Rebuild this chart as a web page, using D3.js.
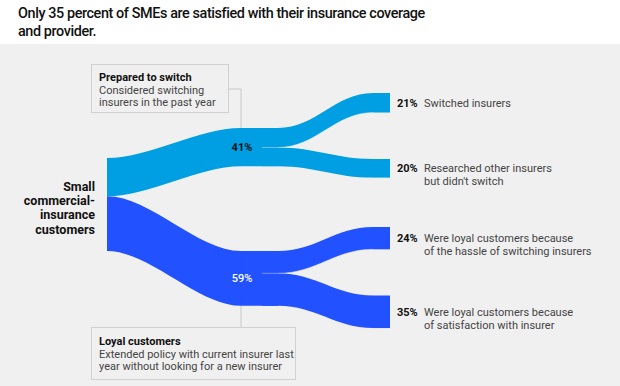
<!DOCTYPE html>
<html>
<head>
<meta charset="utf-8">
<script src="https://cdn.jsdelivr.net/npm/d3@7"></script>
<style>
  body { margin: 0; background: #fff; }
  svg { display: block; font-family: 'Roboto', 'Liberation Sans', sans-serif; }
</style>
</head>
<body>
<svg id="chart" width="620" height="386"></svg>
<script>
'use strict';

// data
var titleLines = ['Only 35 percent of SMEs are satisfied with their insurance coverage', 'and provider.'];
var sourceLabel = ['Small', 'commercial-', 'insurance', 'customers'];

var groups = ['Prepared to switch', 'Loyal customers'];
var groupValues = [41, 59];
var groupNotes = [
  ['Considered switching', 'insurers in the past year'],
  ['Extended policy with current insurer last', 'year without looking for a new insurer']
];

var outcomes = [
  ['Switched insurers'],
  ['Researched other insurers', 'but didn\'t switch'],
  ['Were loyal customers because', 'of the hassle of switching insurers'],
  ['Were loyal customers because', 'of satisfaction with insurer']
];
var outcomeValues = [21, 20, 24, 35];
var outcomeGroup = [0, 0, 1, 1];

// layout
var colors = ['#009fe3', '#2251ff'];
var bg = '#f0f0f0';
var xs = { src: 107, midA: 241, midB: 262, midC: 278, rA: 373, rB: 390 };
var srcTop = 158;
var groupTops = [128, 251];
var outcomeTops = [93, 159, 227, 295.5];

var svg = d3.select('#chart');
var h = d3.scaleLinear().domain([0, 100]).range([0, 93]);

svg.append('rect').attr('width', 620).attr('height', 386).attr('fill', '#fff');
svg.append('rect').attr('y', 44).attr('width', 620).attr('height', 342).attr('fill', bg);

svg.append('g').selectAll('text').data(titleLines).join('text')
  .attr('x', 18).attr('y', function (d, i) { return 18 + i * 18; })
  .attr('font-size', 14.4).attr('font-weight', 500).attr('letter-spacing', -0.4).attr('fill', '#111')
  .text(function (d) { return d; });

// ribbon with flat ends: top edge from (x0,y0) to (x1,y1), thickness t
var ribbon = function (x0, x1, y0, y1, t, k) {
  var p = d3.path(), dx = (x1 - x0) * k;
  p.moveTo(x0, y0);
  p.bezierCurveTo(x0 + dx, y0, x1 - dx, y1, x1, y1);
  p.lineTo(x1, y1 + t);
  p.bezierCurveTo(x1 - dx, y1 + t, x0 + dx, y0 + t, x0, y0 + t);
  p.closePath();
  return p.toString();
};

var flat = function (x0, x1, y, t) {
  return 'M' + x0 + ',' + y + 'H' + x1 + 'V' + (y + t) + 'H' + x0 + 'Z';
};

var links = svg.append('g');

// source -> groups
var acc = srcTop;
groupValues.forEach(function (v, i) {
  var t = h(v);
  links.append('path').attr('d', ribbon(xs.src, xs.midA, acc, groupTops[i], t, 0.32)).attr('fill', colors[i]);
  links.append('path').attr('d', flat(xs.midA - 0.5, xs.midC, groupTops[i], t)).attr('fill', colors[i]);
  acc += t;
});

// groups -> outcomes
var offs = groupTops.slice();
outcomeValues.forEach(function (v, i) {
  var g = outcomeGroup[i], t = h(v), y0 = offs[g];
  links.append('path').attr('d', flat(xs.midB, xs.midC + 0.5, y0, t)).attr('fill', colors[g]);
  links.append('path').attr('d', ribbon(xs.midC, xs.rA, y0, outcomeTops[i], t, 0.4)).attr('fill', colors[g]);
  links.append('path').attr('d', flat(xs.rA - 0.5, xs.rB, outcomeTops[i], t)).attr('fill', colors[g]);
  offs[g] += t;
});

// thin split lines inside each group
groupValues.forEach(function (v, gi) {
  var first = outcomeGroup.indexOf(gi);
  var y0 = groupTops[gi] + h(outcomeValues[first]);
  var y1 = outcomeTops[first] + h(outcomeValues[first]);
  var dx = (xs.rA - xs.midC) * 0.4;
  var p = d3.path();
  p.moveTo(xs.midB, y0);
  p.lineTo(xs.midC, y0);
  p.bezierCurveTo(xs.midC + dx, y0, xs.rA - dx, y1, xs.rA, y1);
  links.append('path').attr('d', p.toString()).attr('fill', 'none')
    .attr('stroke', bg).attr('stroke-opacity', 0.55).attr('stroke-width', 0.8);
});

// group % labels
svg.append('g').selectAll('text').data(groupValues).join('text')
  .attr('x', xs.midA + 1)
  .attr('y', function (d, i) { return groupTops[i] + h(d) / 2 + 4; })
  .attr('text-anchor', 'middle').attr('font-size', 11)
  .attr('font-weight', function (d, i) { return i === 0 ? 700 : 500; })
  .attr('fill', function (d, i) { return i === 0 ? '#111' : '#fff'; })
  .text(function (d) { return d + '%'; });

// source label
svg.append('g').selectAll('text').data(sourceLabel).join('text')
  .attr('x', 95).attr('y', function (d, i) { return 190.5 + i * 14.4; })
  .attr('text-anchor', 'end').attr('font-size', 12.5).attr('font-weight', 700).attr('fill', '#111')
  .text(function (d) { return d; });

// annotation boxes
var boxes = [
  { x: 91.5, y: 64.5, w: 137, hgt: 48, ty: 81, conn: [[228.5, 89], [xs.midA, 89], [xs.midA, groupTops[0]]] },
  { x: 91.5, y: 327.5, w: 204, hgt: 52, ty: 345, conn: [[xs.midA, groupTops[1] + h(groupValues[1])], [xs.midA, 327.5]] }
];
var ann = svg.append('g');
boxes.forEach(function (b, i) {
  ann.append('path').attr('d', d3.line()(b.conn)).attr('fill', 'none').attr('stroke', '#c8c8c8').attr('stroke-width', 1);
  ann.append('rect').attr('x', b.x).attr('y', b.y).attr('width', b.w).attr('height', b.hgt)
    .attr('fill', bg).attr('stroke', '#d0d0d0').attr('stroke-width', 1);
  ann.append('text').attr('x', 99).attr('y', b.ty).attr('font-size', 11).attr('font-weight', 700).attr('fill', '#111')
    .text(groups[i]);
  groupNotes[i].forEach(function (line, j) {
    ann.append('text').attr('x', 99).attr('y', b.ty + 12.5 * (j + 1)).attr('font-size', 11).attr('fill', '#444')
      .text(line);
  });
});

// outcome labels
var out = svg.append('g');
outcomeValues.forEach(function (v, i) {
  var yc = outcomeTops[i] + h(v) / 2 + 4;
  out.append('text').attr('x', 397).attr('y', yc).attr('font-size', 11).attr('font-weight', 700).attr('fill', '#111')
    .text(v + '%');
  outcomes[i].forEach(function (line, j) {
    out.append('text').attr('x', 424).attr('y', yc + j * 12.8).attr('font-size', 11).attr('fill', '#444')
      .text(line);
  });
});
</script>
</body>
</html>
